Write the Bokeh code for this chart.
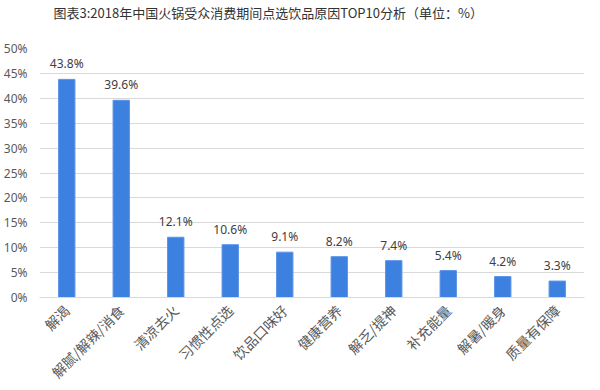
from bokeh.plotting import figure
from bokeh.models import ColumnDataSource, PrintfTickFormatter, FixedTicker, Range1d, Title
from bokeh.core.properties import value
from bokeh.embed import file_html
from bokeh.resources import INLINE
import math

categories = ["解渴", "解腻/解辣/消食", "清凉去火", "习惯性点选", "饮品口味好",
              "健康营养", "解乏/提神", "补充能量", "解暑/暖身", "质量有保障"]
values = [43.8, 39.6, 12.1, 10.6, 9.1, 8.2, 7.4, 5.4, 4.2, 3.3]
y_ticks = [0, 5, 10, 15, 20, 25, 30, 35, 40, 45, 50]
title_text = "图表3:2018年中国火锅受众消费期间点选饮品原因TOP10分析（单位：%）"

src = ColumnDataSource(dict(cat=categories, val=values,
                            lab=[f"{v:.1f}%" for v in values]))

p = figure(frame_width=545, frame_height=249, x_range=categories, y_range=Range1d(0, 50),
           output_backend="svg", toolbar_location=None,
           min_border_left=32, min_border_right=7, min_border_bottom=10, min_border_top=2)
p.title = None
p.add_layout(Title(text=" ", text_font_size="16px", standoff=8), "above")
p.add_layout(Title(text=title_text, align="left", offset=14,
                   text_font="Noto Sans CJK SC", text_font_size="13px",
                   text_font_style="normal", text_color="#333333", standoff=0), "above")

p.vbar(x="cat", top="val", width=0.3, source=src, fill_color="#3c80e0",
       line_color="#5b93e6", line_width=1)
p.text(x="cat", y="val", text="lab", source=src, text_align="center",
       text_baseline="bottom", y_offset=-7, text_font=value("Noto Sans"),
       text_font_size="12px", text_color="#404040")

p.outline_line_color = None
p.background_fill_color = "white"
p.xgrid.grid_line_color = None
p.ygrid.grid_line_color = "#d9d9d9"
p.ygrid.grid_line_width = 1

p.yaxis.ticker = FixedTicker(ticks=y_ticks)
p.yaxis.formatter = PrintfTickFormatter(format="%d%%")
p.yaxis.axis_line_color = None
p.yaxis.major_tick_line_color = None
p.yaxis.minor_tick_line_color = None
p.yaxis.major_label_text_font = "Noto Sans"
p.yaxis.major_label_text_font_size = "12px"
p.yaxis.major_label_text_color = "#595959"
p.yaxis.major_label_standoff = 6

p.xaxis.axis_line_color = "#d9d9d9"
p.xaxis.major_tick_line_color = None
p.xaxis.minor_tick_line_color = None
p.xaxis.major_label_orientation = math.pi / 4
p.xaxis.major_label_text_font = "Noto Sans CJK SC"
p.xaxis.major_label_text_font_size = "14px"
p.xaxis.major_label_text_color = "#595959"
p.xaxis.major_label_standoff = 4
p.x_range.range_padding = 0

open("out.html", "w").write(file_html(p, INLINE))
